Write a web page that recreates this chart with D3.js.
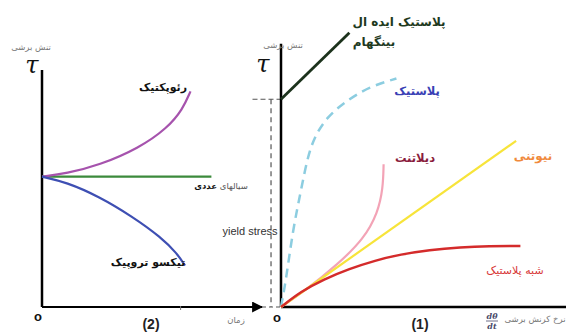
<!DOCTYPE html>
<html>
<head>
<meta charset="utf-8">
<script src="https://cdn.jsdelivr.net/npm/d3@7"></script>
<style>
  body { margin: 0; background: #fff; }
  svg { display: block; }
  .fa { font-family: "DejaVu Sans", sans-serif; }
</style>
</head>
<body>
<svg id="chart" width="566" height="335"></svg>
<script>
// left chart (2): shear stress vs time
let rheopectic = [[0, 55], [11, 56.3], [26, 59.8], [44, 67], [57, 75.5], [64, 83.5], [67.5, 91]];
let thixotropic = [[0, 55], [11, 52.7], [26, 46.6], [41, 38.2], [54, 29.5], [61.5, 22.5], [65, 17.5]];
let normalFluid = [[0, 55], [77, 55]];

// right chart (1): shear stress vs shear rate
let bingham = [[0, 75], [24, 99]];
let plastic = [[0, 0], [1.8, 10], [4.2, 28], [7, 42], [9.1, 53], [11.5, 61], [16, 68.5], [23, 74.5], [31, 79.5], [40.5, 82.5]];
let dilatant = [[0, 0], [9, 6.3], [20, 15.5], [29, 24.5], [34, 34], [35.8, 43], [36, 51.5]];
let newtonian = [[0, 0], [82.5, 60]];
let pseudoPlastic = [[0, 0], [7, 5.6], [15, 10], [24, 13.8], [33, 16.8], [42, 19], [52, 20.6], [63, 21.6], [73, 22], [84, 22]];
let yieldStress = 75;

let svg = d3.select('#chart');

// scales for each panel
let xL = d3.scaleLinear().domain([0, 100]).range([42, 262]);
let yL = d3.scaleLinear().domain([0, 100]).range([307, 70]);
let xR = d3.scaleLinear().domain([0, 100]).range([281, 566]);
let yR = d3.scaleLinear().domain([0, 100]).range([307, 30]);

let defs = svg.append('defs');
defs.append('marker')
    .attr('id', 'arrow')
    .attr('viewBox', '0 0 10 10')
    .attr('refX', 9).attr('refY', 5)
    .attr('markerWidth', 5).attr('markerHeight', 5)
    .attr('markerUnits', 'strokeWidth')
    .attr('orient', 'auto')
    .append('path')
    .attr('d', 'M0,0 L10,5 L0,10 z')
    .attr('fill', '#000');

function curve(g, data, xs, ys, color, width, dash) {
    let line = d3.line()
        .x(d => xs(d[0]))
        .y(d => ys(d[1]))
        .curve(d3.curveBasis);
    g.append('path')
        .datum(data)
        .attr('d', line)
        .attr('fill', 'none')
        .attr('stroke', color)
        .attr('stroke-width', width)
        .attr('stroke-dasharray', dash || null);
}

// ---- left panel ----
let left = svg.append('g');

// y axis
left.append('line')
    .attr('x1', xL(0)).attr('x2', xL(0))
    .attr('y1', yL(100)).attr('y2', yL(0))
    .attr('stroke', '#000').attr('stroke-width', 2.5);
// x axis with arrow
left.append('line')
    .attr('x1', xL(0)).attr('x2', xL(100))
    .attr('y1', yL(0)).attr('y2', yL(0))
    .attr('stroke', '#000').attr('stroke-width', 2.2)
    .attr('marker-end', 'url(#arrow)');
left.append('line')
    .attr('x1', xL(63)).attr('x2', xL(63))
    .attr('y1', yL(0) - 1).attr('y2', yL(0) + 3)
    .attr('stroke', '#777').attr('stroke-width', 1);

curve(left, normalFluid, xL, yL, '#3b8a3b', 2.2);
curve(left, rheopectic, xL, yL, '#a653ad', 2.2);
curve(left, thixotropic, xL, yL, '#3e4fb3', 2.2);

// ---- right panel ----
let right = svg.append('g');

// dashed connectors
right.append('line')
    .attr('x1', xL(100)).attr('x2', xR(0))
    .attr('y1', yR(0)).attr('y2', yR(0))
    .attr('stroke', '#555').attr('stroke-width', 1.2).attr('stroke-dasharray', '4,3');
right.append('line')
    .attr('x1', xR(-3.5)).attr('x2', xR(-3.5))
    .attr('y1', yR(yieldStress)).attr('y2', yR(0))
    .attr('stroke', '#555').attr('stroke-width', 1.2).attr('stroke-dasharray', '5,4');
right.append('line')
    .attr('x1', xR(-10)).attr('x2', xR(0))
    .attr('y1', yR(yieldStress)).attr('y2', yR(yieldStress))
    .attr('stroke', '#555').attr('stroke-width', 1.2).attr('stroke-dasharray', '5,3');

// axes
right.append('line')
    .attr('x1', xR(0)).attr('x2', xR(0))
    .attr('y1', yR(95)).attr('y2', yR(0))
    .attr('stroke', '#000').attr('stroke-width', 2.5);
right.append('line')
    .attr('x1', xR(0)).attr('x2', xR(100))
    .attr('y1', yR(0)).attr('y2', yR(0))
    .attr('stroke', '#000').attr('stroke-width', 2.5);

curve(right, bingham, xR, yR, '#1c321c', 2.8);
curve(right, plastic, xR, yR, '#8ccde0', 2.5, '9,6');
curve(right, dilatant, xR, yR, '#f3a3b6', 2.2);
curve(right, newtonian, xR, yR, '#f7e43a', 2.2);
curve(right, pseudoPlastic, xR, yR, '#d42b2b', 2.5);

// ---- texts ----
function label(x, y, txt, size, color, weight, anchor, cls) {
    return svg.append('text')
        .attr('class', cls === undefined ? 'fa' : cls)
        .attr('x', x).attr('y', y)
        .attr('font-size', size)
        .attr('fill', color)
        .attr('font-weight', weight || 'normal')
        .attr('text-anchor', anchor || 'middle')
        .text(txt);
}

// left panel texts
label(31, 50, 'تنش برشی', 8.5, '#777');
label(32, 73, 'τ', 24, '#111', 'normal', 'middle', '').attr('font-family', 'DejaVu Serif, serif').attr('font-style', 'italic');
label(163, 91, 'رئوپکتیک', 11, '#111', 'bold');
label(148, 266, 'تیکسو تروپیک', 11, '#111', 'bold');
let nf = svg.append('text').attr('class', 'fa').attr('x', 221).attr('y', 189)
    .attr('text-anchor', 'middle').attr('font-size', 8.5).attr('fill', '#555');
nf.append('tspan').text('سیالهای ');
nf.append('tspan').attr('font-weight', 'bold').attr('fill', '#111').text('عددی');
label(38, 321, 'o', 13, '#111', 'bold', 'middle', '').attr('font-family', 'Liberation Sans, Arial, sans-serif');
label(151, 329, '(2)', 14, '#222', 'bold', 'middle', '').attr('font-family', 'Liberation Sans, Arial, sans-serif');
label(236, 323, 'زمان', 8.5, '#777');

// right panel texts
label(283, 48, 'تنش برشی', 8.5, '#777');
label(263, 72, 'τ', 24, '#111', 'normal', 'middle', '').attr('font-family', 'DejaVu Serif, serif').attr('font-style', 'italic');
label(399, 26, 'پلاستیک ایده ال', 12, '#1e3a1e', 'bold');
label(374, 46, 'بینگهام', 12, '#1e3a1e', 'bold');
label(417, 95, 'پلاستیک', 11.5, '#3a3fb5', 'bold');
label(415, 162, 'دیلاتنت', 11.5, '#8a1c3c', 'bold');
label(533, 160, 'نیوتنی', 12, '#f08a3c', 'bold');
label(515, 274, 'شبه پلاستیک', 11, '#d83a3a');
label(250, 235, 'yield stress', 11, '#333', 'normal', 'middle', '').attr('font-family', 'Liberation Sans, Arial, sans-serif');
label(277, 322, 'o', 13, '#111', 'bold', 'middle', '').attr('font-family', 'Liberation Sans, Arial, sans-serif');
label(420, 329, '(1)', 14, '#222', 'bold', 'middle', '').attr('font-family', 'Liberation Sans, Arial, sans-serif');
label(535, 322, 'نرخ کرنش برشی', 8.5, '#777');
// d theta / dt
label(492, 319, 'dθ', 8, '#4a4a6a', 'bold', 'middle', '').attr('font-family', 'DejaVu Serif, serif').attr('font-style', 'italic');
svg.append('line').attr('x1', 486).attr('x2', 498).attr('y1', 321).attr('y2', 321)
    .attr('stroke', '#4a4a6a').attr('stroke-width', 0.8);
label(492, 329, 'dt', 8, '#4a4a6a', 'bold', 'middle', '').attr('font-family', 'DejaVu Serif, serif').attr('font-style', 'italic');
</script>
</body>
</html>
